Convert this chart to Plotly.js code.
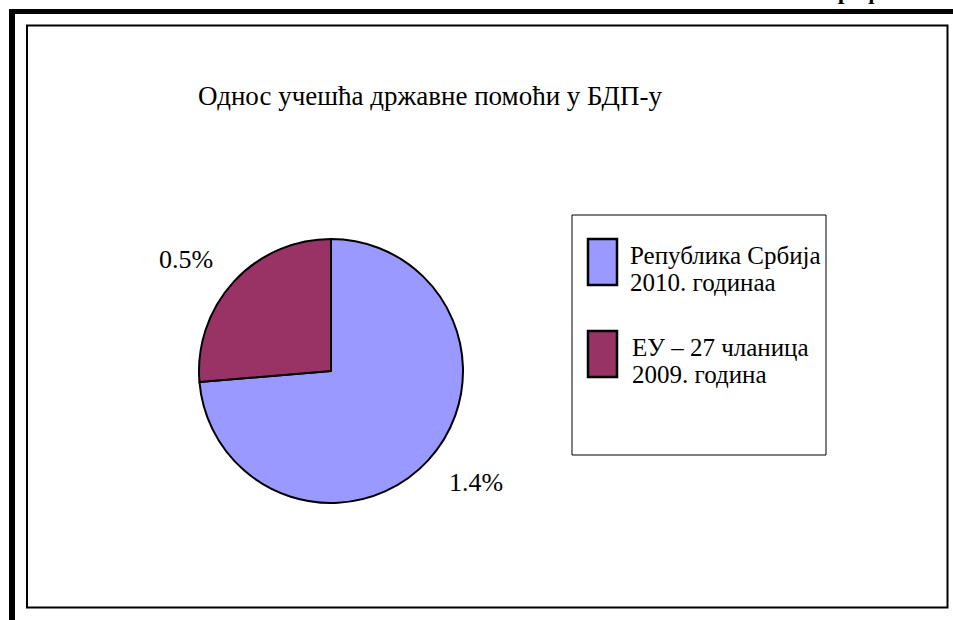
<!DOCTYPE html>
<html>
<head>
<meta charset="utf-8">
<script src="https://cdn.plot.ly/plotly-3.0.1.min.js"></script>
<style>html,body{margin:0;padding:0;background:#fff;}#chart{width:953px;height:620px;}</style>
</head>
<body>
<div id="chart"></div>
<script>
// ---- data ----
const seriesNames = ["Република Србија<br>2010. годинаа", "ЕУ – 27 чланица<br>2009. година"];
const shareValues = [1.4, 0.5];
const valueLabels = ["1.4%", "0.5%"];
const sliceColors = ["#9999FF", "#993366"];
const chartTitle = "Однос учешћа државне помоћи у БДП-у";
const pageTag = "Графикон 9";

// ---- helpers: pixel -> paper ----
const W = 953, H = 620;
const px = x => x / W;
const py = y => 1 - y / H;

const FONT = "Liberation Serif, Times New Roman, serif";

const cx = 331, cy = 371, half = 132;

const trace = {
  type: "pie",
  values: shareValues,
  labels: seriesNames,
  text: valueLabels,
  textinfo: "none",
  hoverinfo: "label+text",
  sort: false,
  direction: "clockwise",
  rotation: 0,
  marker: { colors: sliceColors, line: { color: "#000", width: 2 } },
  showlegend: false,
  domain: { x: [px(cx - half), px(cx + half)], y: [py(cy + half), py(cy - half)] }
};

const shapes = [
  // thick outer frame (left and top)
  { type: "line", xref: "paper", yref: "paper", x0: px(12), x1: px(12), y0: py(9), y1: py(625), line: { color: "#000", width: 6 } },
  { type: "line", xref: "paper", yref: "paper", x0: px(9), x1: px(960), y0: py(11.5), y1: py(11.5), line: { color: "#000", width: 5 } },
  // inner chart frame
  { type: "rect", xref: "paper", yref: "paper", x0: px(27), x1: px(947.5), y0: py(25.5), y1: py(607.5), line: { color: "#000", width: 2 } },
  // legend box
  { type: "rect", xref: "paper", yref: "paper", x0: px(572), x1: px(826), y0: py(215), y1: py(455), line: { color: "#000", width: 1 } }
];

const annotations = [
  { xref: "paper", yref: "paper", x: px(430), y: py(96), xanchor: "center", yanchor: "middle", showarrow: false,
    text: chartTitle, font: { family: FONT, size: 27, color: "#000" } },
  { xref: "paper", yref: "paper", x: px(822), y: py(6), xanchor: "left", yanchor: "bottom", showarrow: false,
    text: "<b>" + pageTag + "</b>", font: { family: FONT, size: 24, color: "#000" } }
];

// value labels placed outside each slice near its mid-angle (derived from the values)
const total = shareValues.reduce((a, b) => a + b, 0);
let cum = 0;
const labelDist = 183, labelTurn = -5 * Math.PI / 180;
shareValues.forEach((v, i) => {
  const mid = (cum + v / 2) / total * 2 * Math.PI + labelTurn; // clockwise from 12 o'clock
  cum += v;
  annotations.push({ xref: "paper", yref: "paper",
    x: px(cx + labelDist * Math.sin(mid)), y: py(cy - labelDist * Math.cos(mid)),
    xanchor: "center", yanchor: "middle", showarrow: false,
    text: valueLabels[i], font: { family: FONT, size: 26, color: "#000" } });
});

// custom legend built from the series arrays
const legendTop = [239, 331];
const lineGap = 27;
seriesNames.forEach((name, i) => {
  const t = legendTop[i];
  shapes.push({ type: "rect", xref: "paper", yref: "paper", x0: px(588), x1: px(617), y0: py(t + 46), y1: py(t),
    fillcolor: sliceColors[i], line: { color: "#000", width: 2.5 } });
  name.split("<br>").forEach((line, j) => {
    const baseline = t + 24 + j * lineGap;
    annotations.push({ xref: "paper", yref: "paper", x: px(628 + (i === 1 ? 2 : 0)), y: py(baseline - 8),
      xanchor: "left", yanchor: "middle", align: "left", showarrow: false,
      text: line, font: { family: FONT, size: 25, color: "#000" } });
  });
});

const layout = {
  width: W, height: H,
  margin: { l: 0, r: 0, t: 0, b: 0 },
  paper_bgcolor: "#fff",
  plot_bgcolor: "#fff",
  font: { family: FONT },
  shapes: shapes,
  annotations: annotations,
  showlegend: false
};

Plotly.newPlot("chart", [trace], layout, { displayModeBar: false, staticPlot: true });
</script>
</body>
</html>
